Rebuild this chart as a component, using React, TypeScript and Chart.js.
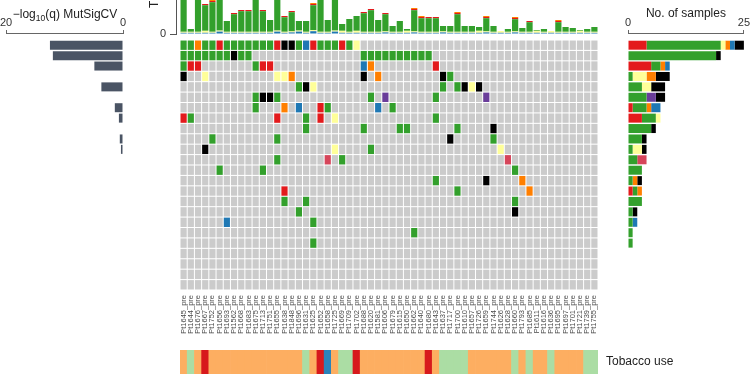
import React, { useEffect, useRef } from 'react';
import { Chart, registerables } from 'chart.js';

Chart.register(...registerables);

const FONT = '"Liberation Sans", Arial, Helvetica, sans-serif';
Chart.defaults.font.family = FONT;
Chart.defaults.color = '#333';

// ---------------- data ----------------
const GENES = ['TP53', 'KRAS', 'STK11', 'RBM10', 'EGFR', 'KEAP1', 'CDKN2A', 'SMARCA4', 'ATM', 'MET', 'ARID1A', 'ERBB2', 'BRAF', 'NF1', 'PTEN', 'MGA', 'SETD2', 'RB1', 'HRAS', 'RIT1', 'NRAS', 'U2AF1', 'PIK3CA', 'MAP2K1'];

const PCT_LABELS = ['43%', '34%', '16%', '16%', '14%', '14%', '12%', '12%', '10%', '7%', '7%', '7%', '5%', '5%', '5%', '5%', '3%', '3%', '2%', '2%', '0%', '0%', '0%', '0%'];

const MUTSIG = [12.5, 12.0, 4.9, 0, 3.7, 0, 1.4, 0.7, 0, 0.55, 0.35, 0, 0, 0, 0, 0, 0, 0, 0, 0, 0, 0, 0, 0];

const PATIENTS = ['Pt1645_pre', 'Pt1644_pre', 'Pt1676_pre', 'Pt1667_pre', 'Pt1752_pre', 'Pt1656_pre', 'Pt1693_pre', 'Pt1562_pre', 'Pt1668_pre', 'Pt1683_pre',
  'Pt1675_pre', 'Pt1713_pre', 'Pt1751_pre', 'Pt1655_pre', 'Pt1638_pre', 'Pt1848_pre', 'Pt1696_pre', 'Pt1631_pre', 'Pt1625_pre', 'Pt1652_pre',
  'Pt1658_pre', 'Pt1725_pre', 'Pt1669_pre', 'Pt1709_pre', 'Pt1702_pre', 'Pt1688_pre', 'Pt1620_pre', 'Pt1581_pre', 'Pt1606_pre', 'Pt1679_pre',
  'Pt1615_pre', 'Pt1650_pre', 'Pt1662_pre', 'Pt1640_pre', 'Pt1680_pre', 'Pt1643_pre', 'Pt1637_pre', 'Pt1717_pre', 'Pt1700_pre', 'Pt1610_pre',
  'Pt1657_pre', 'Pt1726_pre', 'Pt1659_pre', 'Pt1744_pre', 'Pt1626_pre', 'Pt1628_pre', 'Pt1660_pre', 'Pt1793_pre', 'Pt1685_pre', 'Pt1611_pre',
  'Pt1616_pre', 'Pt1636_pre', 'Pt1695_pre', 'Pt1697_pre', 'Pt1701_pre', 'Pt1721_pre', 'Pt1739_pre', 'Pt1755_pre'];

// mutation codes: R red, G green, Y yellow, O orange, B blue, P purple, M pink-red, K black
const MUT_TYPES = ['R', 'G', 'Y', 'O', 'B', 'P', 'M', 'K'];
const MUT_COLORS: Record<string, string> = {
  R: '#e31a1c', G: '#33a02c', Y: '#ffff99', O: '#ff7f00', B: '#1f78b4', P: '#6a3d9a', M: '#d6455a', K: '#000000',
};
const GRAY = '#cbcbcb';

// per gene: [patient column, mutation code]
const MUTATIONS: [number, string][][] = [
  [[0, 'G'], [1, 'G'], [2, 'O'], [3, 'G'], [4, 'G'], [5, 'R'], [6, 'G'], [7, 'G'], [8, 'G'], [9, 'G'], [10, 'G'], [11, 'G'], [12, 'G'], [13, 'R'], [14, 'K'], [15, 'K'], [16, 'G'], [17, 'B'], [18, 'R'], [19, 'G'], [20, 'G'], [21, 'G'], [22, 'R'], [23, 'G'], [24, 'Y']], // TP53
  [[0, 'G'], [1, 'G'], [2, 'G'], [3, 'G'], [4, 'G'], [5, 'G'], [6, 'G'], [7, 'K'], [8, 'G'], [9, 'G'], [25, 'G'], [26, 'G'], [27, 'G'], [28, 'G'], [29, 'G'], [30, 'G'], [31, 'G'], [32, 'G'], [33, 'G'], [34, 'G']], // KRAS
  [[0, 'G'], [1, 'R'], [2, 'R'], [10, 'G'], [11, 'R'], [12, 'R'], [25, 'B'], [26, 'O'], [35, 'R']], // STK11
  [[0, 'K'], [3, 'Y'], [13, 'Y'], [14, 'Y'], [15, 'O'], [25, 'K'], [27, 'O'], [36, 'K'], [37, 'G']], // RBM10
  [[16, 'G'], [17, 'K'], [18, 'Y'], [36, 'G'], [38, 'G'], [39, 'K'], [40, 'Y'], [41, 'K']], // EGFR
  [[10, 'G'], [11, 'K'], [12, 'K'], [13, 'G'], [26, 'G'], [28, 'P'], [35, 'G'], [42, 'P']], // KEAP1
  [[10, 'G'], [14, 'O'], [16, 'B'], [19, 'R'], [20, 'G'], [27, 'B'], [29, 'G']], // CDKN2A
  [[0, 'R'], [1, 'G'], [13, 'R'], [17, 'G'], [19, 'R'], [21, 'Y'], [35, 'G']], // SMARCA4
  [[17, 'G'], [25, 'G'], [30, 'G'], [31, 'G'], [38, 'G'], [43, 'K']], // ATM
  [[4, 'G'], [13, 'G'], [37, 'K'], [43, 'G']], // MET
  [[3, 'K'], [21, 'Y'], [26, 'G'], [44, 'Y']], // ARID1A
  [[13, 'G'], [20, 'M'], [22, 'G'], [45, 'M']], // ERBB2
  [[5, 'G'], [11, 'G'], [46, 'G']], // BRAF
  [[35, 'G'], [42, 'K'], [47, 'O']], // NF1
  [[14, 'R'], [38, 'G'], [48, 'O']], // PTEN
  [[14, 'G'], [17, 'G'], [46, 'G']], // MGA
  [[16, 'G'], [46, 'K']], // SETD2
  [[6, 'B'], [18, 'G']], // RB1
  [[32, 'G']], // HRAS
  [[18, 'G']], // RIT1
  [], // NRAS
  [], // U2AF1
  [], // PIK3CA
  [], // MAP2K1
];

// tobacco use per patient: F former, N never, C current, U unknown
const TOBACCO = 'FNFCFFFFFFFFFFFFFNFCUFNNCFFFFFFFFFCFNNNNFFFFFFNFNFFNFFFFNN'.split('');
const TOBACCO_COLORS: Record<string, string> = { F: '#fdae61', N: '#abdda4', C: '#d7191c', U: '#2b83ba' };

// TMB stacked components per patient
const TMB_BLUE = [0.6, 0.6, 0.6, 0.6, 0.6, 1.2, 0.6, 0.6, 0.6, 0.6, 0.6, 0.6, 0.6, 1.2, 0.6, 0.8, 1.2, 0.6, 1.4, 0.6, 0.6, 1.2, 0.6, 0.6, 0.6, 0.6, 0.6, 0.6, 0.8, 0.6, 0.6, 0.6, 0.8, 0.6, 0.6, 0.6, 0.8, 0.6, 0.6, 0.6, 0.6, 0.6, 0.8, 0.6, 0.6, 0.6, 0.8, 0.6, 0.6, 0.6, 0.6, 0.6, 0.6, 0.6, 0.6, 0.6, 0.6, 0.6];
const TMB_YELLOW = [0.5, 0.5, 0.5, 1.0, 0.5, 0.5, 0.5, 0.5, 0.5, 0.5, 0.5, 0.5, 0.5, 0.5, 0.5, 0.5, 0.5, 0.5, 0.5, 0.5, 0.5, 0.5, 1.0, 0.5, 1.0, 0.5, 0.5, 0.5, 0.5, 0.5, 0.5, 1.0, 0.5, 0.5, 0.5, 0.5, 0.5, 0.5, 0.5, 0.5, 0.5, 1.0, 0.5, 0.5, 0.9, 0.5, 0.5, 0.5, 0.5, 1.0, 0.5, 0.9, 0.5, 0.5, 0.5, 1.0, 0.5, 0.5];
const TMB_GREEN = [22.9, 1.4, 23.9, 12.8, 14.8, 19.3, 5.4, 8.8, 10.3, 10.3, 21.9, 10.3, 5.9, 18.3, 7.3, 9.6, 4.8, 5.4, 12.5, 20.9, 5.9, 17.3, 3.4, 6.4, 7.4, 9.3, 10.8, 5.9, 8.6, 2.9, 5.4, 0.9, 10.6, 6.8, 6.8, 6.8, 2.7, 2.9, 8.8, 2.9, 2.9, 1.9, 6.6, 2.9, 0, 1.4, 6.1, 1.9, 4.8, 0.4, 1.4, 0, 4.8, 2.4, 1.9, 0.4, 1.4, 2.4];
const TMB_RED = [0, 0, 0, 0.6, 0.6, 0, 0, 0.6, 0.6, 0.6, 0, 0.6, 0, 0, 0.6, 0.6, 0, 0, 0.6, 0, 0, 0, 0, 0, 0, 0.6, 0.6, 0, 0.6, 0, 0, 0, 0.6, 0.6, 0.6, 0.6, 0, 0, 0.6, 0, 0, 0, 0.6, 0, 0, 0, 0.6, 0, 0.6, 0, 0, 0, 0.6, 0, 0, 0, 0, 0];
const TMB_ORANGE = [0, 0, 0, 0, 0.5, 0, 0, 0, 0, 0, 0, 0, 0, 0, 0, 0, 0, 0, 0.5, 0, 0, 0, 0, 0, 0, 0, 0, 0, 0, 0, 0, 0, 0.5, 0.5, 0, 0, 0, 0, 0.5, 0, 0, 0, 0.5, 0, 0, 0, 0.5, 0, 0, 0, 0, 0, 0.5, 0, 0, 0, 0, 0];

// ---------------- geometry ----------------
const GRID_LEFT = 180;
const GRID_RIGHT = 598;
const GRID_TOP = 40;
const GRID_BOTTOM = 290;
const ROW_H = (GRID_BOTTOM - GRID_TOP) / GENES.length;
const COL_W = (GRID_RIGHT - GRID_LEFT) / PATIENTS.length;
const SIDE_AXIS_Y = 33;
const SIDE_MIN = -0.5 - (GRID_TOP - SIDE_AXIS_Y) / ROW_H;

const TMB_BASE_Y = 34;       // page y of TMB zero line
const TMB_PAD = 11;          // canvas padding above / below TMB plot area
const TMB_PLOT_H = 100;      // 50 units at 2 px per unit
const TMB_CANVAS_H = TMB_PLOT_H + 2 * TMB_PAD;
const TMB_CANVAS_TOP = TMB_BASE_Y - TMB_PAD - TMB_PLOT_H;

const TOB_TOP = 350;
const TOB_BOTTOM = 374;
const TOB_PAD = 16;

const noPlugins = { legend: { display: false }, tooltip: { enabled: false } };

// ---------------- chart configs ----------------
function makeMain() {
  const datasets = GENES.map((g, r) => {
    const colors = PATIENTS.map(() => GRAY);
    MUTATIONS[r].forEach(([c, t]) => { colors[c] = MUT_COLORS[t]; });
    return {
      label: g,
      data: PATIENTS.map(() => [r - 0.45, r + 0.45]),
      backgroundColor: colors,
      borderWidth: 0,
      inflateAmount: 0,
      barPercentage: 0.86,
      categoryPercentage: 1,
      grouped: false,
    };
  });
  return {
    type: 'bar',
    data: { labels: PATIENTS, datasets },
    options: {
      responsive: false, animation: false, events: [],
      layout: { autoPadding: false, padding: { top: GRID_TOP, left: 0, right: 0, bottom: 0 } },
      plugins: noPlugins,
      scales: {
        x: {
          type: 'category',
          grid: { display: false, drawTicks: false }, border: { display: false },
          ticks: { autoSkip: false, minRotation: 90, maxRotation: 90, padding: 5, font: { size: 7.5 }, color: '#4a4a4a' },
          afterFit: (s: any) => { s.height = 375 - GRID_BOTTOM; },
        },
        y: {
          type: 'linear', min: -0.5, max: GENES.length - 0.5, reverse: true, position: 'left',
          grid: { display: false, drawTicks: false }, border: { display: false },
          ticks: {
            stepSize: 1, autoSkip: false, includeBounds: false, padding: 4,
            font: { size: 10.5, style: 'italic' }, color: '#333',
            callback: (v: number) => GENES[v] ?? '',
          },
          afterFit: (s: any) => { s.width = GRID_LEFT; },
        },
        y2: {
          type: 'linear', min: -0.5, max: GENES.length - 0.5, reverse: true, position: 'right',
          grid: { display: false, drawTicks: false }, border: { display: false },
          ticks: {
            stepSize: 1, autoSkip: false, includeBounds: false, padding: 5,
            font: { size: 10.5 }, color: '#333',
            callback: (v: number) => PCT_LABELS[v] ?? '',
          },
          afterFit: (s: any) => { s.width = 750 - GRID_RIGHT; },
        },
      },
    },
  };
}

const mutsigTitle = {
  id: 'mutsigTitle',
  afterDraw(chart: any) {
    const ctx = chart.ctx;
    ctx.save();
    ctx.fillStyle = '#222';
    ctx.textBaseline = 'alphabetic';
    ctx.textAlign = 'left';
    const parts: [string, string, number][] = [
      ['\u2212log', `12px ${FONT}`, 0],
      ['10', `8.5px ${FONT}`, 3],
      ['(q) MutSigCV', `12px ${FONT}`, 0],
    ];
    let total = 0;
    const widths = parts.map(([t, f]) => { ctx.font = f; const w = ctx.measureText(t).width; total += w; return w; });
    let x = 65 - total / 2;
    parts.forEach(([t, f, dy], i) => {
      ctx.font = f;
      ctx.fillText(t, x, 18 + dy);
      x += widths[i];
    });
    ctx.restore();
  },
};

function makeLeft() {
  return {
    type: 'bar',
    data: {
      datasets: [{
        data: GENES.map((g, i) => ({ x: MUTSIG[i], y: i })),
        backgroundColor: '#4a5464', borderWidth: 0, barThickness: 9, inflateAmount: 0,
      }],
    },
    options: {
      indexAxis: 'y',
      responsive: false, animation: false, events: [],
      layout: { autoPadding: false, padding: { left: 5, right: 57, top: 0, bottom: 10 } },
      plugins: noPlugins,
      scales: {
        x: {
          type: 'linear', position: 'top', min: 0, max: 20, reverse: true,
          ticks: { stepSize: 20, padding: 0, font: { size: 11 }, color: '#333' },
          grid: { drawOnChartArea: false, drawTicks: true, tickLength: 3, color: '#666' },
          border: { display: true, color: '#666' },
          afterFit: (s: any) => { s.height = SIDE_AXIS_Y; },
        },
        y: { type: 'linear', offset: false, min: SIDE_MIN, max: GENES.length - 0.5, reverse: true, display: false },
      },
    },
    plugins: [mutsigTitle],
  };
}

function makeRight() {
  const datasets = MUT_TYPES.map((t) => ({
    label: t,
    data: GENES.map((g, i) => ({ x: MUTATIONS[i].filter((m) => m[1] === t).length, y: i })),
    backgroundColor: MUT_COLORS[t], borderWidth: 0, barThickness: 9, inflateAmount: 0,
  }));
  return {
    type: 'bar',
    data: { datasets },
    options: {
      indexAxis: 'y',
      responsive: false, animation: false, events: [],
      layout: { autoPadding: false, padding: { left: 30, right: 6, top: 0, bottom: 10 } },
      plugins: noPlugins,
      scales: {
        x: {
          type: 'linear', position: 'top', min: 0, max: 25, stacked: true,
          ticks: { stepSize: 25, padding: 0, font: { size: 11 }, color: '#333' },
          grid: { drawOnChartArea: false, drawTicks: true, tickLength: 3, color: '#666' },
          border: { display: true, color: '#666' },
          title: { display: true, text: 'No. of samples', font: { size: 12 }, color: '#222', padding: { top: 6, bottom: 0 } },
          afterFit: (s: any) => { s.height = SIDE_AXIS_Y; },
        },
        y: { type: 'linear', offset: false, min: SIDE_MIN, max: GENES.length - 0.5, reverse: true, display: false, stacked: true },
      },
    },
  };
}

const tmbTitle = {
  id: 'tmbTitle',
  afterDraw(chart: any) {
    const ctx = chart.ctx;
    ctx.save();
    ctx.fillStyle = '#222';
    ctx.font = `12px ${FONT}`;
    ctx.translate(155, 8 - TMB_CANVAS_TOP);
    ctx.rotate(-Math.PI / 2);
    ctx.textAlign = 'left';
    ctx.textBaseline = 'middle';
    ctx.fillText('TMB', 0, 0);
    ctx.restore();
  },
};

function makeTMB() {
  const layers: [number[], string][] = [
    [TMB_BLUE, MUT_COLORS.B],
    [TMB_YELLOW, MUT_COLORS.Y],
    [TMB_GREEN, MUT_COLORS.G],
    [TMB_RED, MUT_COLORS.R],
    [TMB_ORANGE, MUT_COLORS.O],
  ];
  const axisGap = 4 / COL_W;
  return {
    type: 'bar',
    data: {
      datasets: layers.map(([vals, color]) => ({
        data: vals.map((v, i) => ({ x: i, y: v })),
        backgroundColor: color, borderWidth: 0, barPercentage: 0.86, categoryPercentage: 1,
      })),
    },
    options: {
      responsive: false, animation: false, events: [],
      layout: { autoPadding: false, padding: { left: 0, right: 750 - GRID_RIGHT, top: TMB_PAD, bottom: TMB_PAD } },
      plugins: noPlugins,
      scales: {
        x: { type: 'linear', offset: false, display: false, min: -0.5 - axisGap, max: PATIENTS.length - 0.5, stacked: true },
        y: {
          type: 'linear', min: 0, max: 50, stacked: true, position: 'left',
          ticks: { stepSize: 25, padding: 4, font: { size: 11 }, color: '#333' },
          grid: { drawOnChartArea: false, drawTicks: true, tickLength: 6, color: '#555' },
          border: { display: true, color: '#555' },
          afterFit: (s: any) => { s.width = GRID_LEFT - 4; },
        },
      },
    },
    plugins: [tmbTitle],
  };
}

function makeTobacco() {
  return {
    type: 'bar',
    data: {
      labels: PATIENTS,
      datasets: [{
        data: PATIENTS.map(() => 1),
        xAxisID: 'x', yAxisID: 'y',
        backgroundColor: TOBACCO.map((c) => TOBACCO_COLORS[c]),
        borderWidth: 0, barPercentage: 1, categoryPercentage: 1,
      }],
    },
    options: {
      responsive: false, animation: false, events: [],
      layout: { autoPadding: false, padding: { left: GRID_LEFT, right: 0, top: TOB_PAD, bottom: TOB_PAD } },
      plugins: noPlugins,
      scales: {
        x: { type: 'category', display: false },
        y: { type: 'linear', min: 0, max: 1, display: false },
        y2: {
          type: 'category', labels: ['Tobacco use'], position: 'right', offset: true,
          grid: { display: false, drawTicks: false }, border: { display: false },
          ticks: { padding: 8, font: { size: 12 }, color: '#222' },
          afterFit: (s: any) => { s.width = 750 - GRID_RIGHT; },
        },
      },
    },
  };
}

// ---------------- components ----------------
function Panel({ left, top, width, height, make }: { left: number; top: number; width: number; height: number; make: () => any }) {
  const ref = useRef<HTMLCanvasElement | null>(null);
  useEffect(() => {
    if (!ref.current) return;
    const chart = new Chart(ref.current, make());
    return () => chart.destroy();
  }, []);
  return (
    <canvas
      ref={ref}
      width={width}
      height={height}
      style={{ position: 'absolute', left, top, width, height, display: 'block' }}
    />
  );
}

export default function App() {
  return (
    <div style={{ position: 'fixed', left: 0, top: 0, width: 750, height: 375, overflow: 'hidden', background: '#ffffff' }}>
      <Panel left={0} top={0} width={750} height={375} make={makeMain} />
      <Panel left={0} top={TMB_CANVAS_TOP} width={750} height={TMB_CANVAS_H} make={makeTMB} />
      <Panel left={0} top={0} width={180} height={300} make={makeLeft} />
      <Panel left={GRID_RIGHT} top={0} width={152} height={300} make={makeRight} />
      <Panel left={0} top={TOB_TOP - TOB_PAD} width={750} height={TOB_BOTTOM - TOB_TOP + 2 * TOB_PAD} make={makeTobacco} />
    </div>
  );
}
